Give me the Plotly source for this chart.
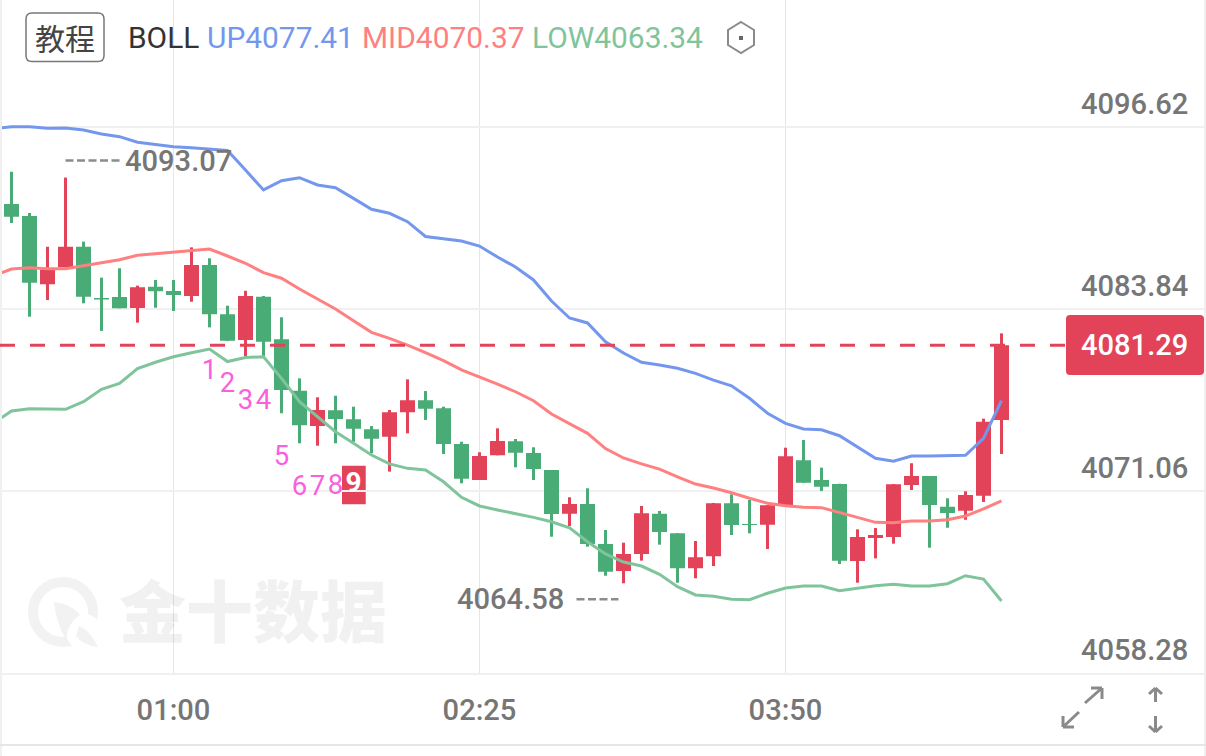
import plotly.graph_objects as go

# Gold 5-minute candles with Bollinger bands and a TD sequence count
times = list(range(56))
opens = [4091.21,4090.37,4085.57,4086.77,4088.21,4084.61,4084.68,4083.91,4085.41,4085.10,4084.75,4086.93,4083.47,4081.66,4084.70,4081.71,
         4078.10,4075.62,4076.73,4076.09,4075.39,4074.87,4076.59,4077.43,4076.87,4074.36,4071.83,4073.57,4074.55,4073.73,4072.53,4069.47,
         4070.15,4067.34,4065.44,4066.64,4069.47,4068.09,4065.63,4066.47,4070.20,4068.74,4068.69,4070.08,4073.22,4071.83,4071.55,4066.14,
         4067.76,4067.83,4071.48,4072.11,4069.96,4069.68,4070.73,4076.05]
highs = [4093.48,4090.58,4088.21,4093.07,4088.57,4086.04,4086.70,4085.48,4085.88,4085.88,4088.17,4087.40,4084.07,4085.12,4084.75,4083.26,
         4078.97,4077.64,4077.75,4076.98,4075.62,4076.75,4078.90,4078.08,4076.98,4074.52,4073.78,4075.46,4074.71,4074.13,4072.53,4070.62,
         4071.25,4068.32,4067.43,4070.01,4069.66,4068.09,4067.55,4070.22,4070.83,4070.43,4070.06,4074.10,4074.64,4072.70,4071.57,4068.37,
         4068.46,4071.55,4073.01,4072.11,4070.55,4071.04,4076.14,4082.13]
lows = [4089.88,4083.30,4084.47,4086.77,4084.24,4082.30,4083.89,4082.88,4083.93,4083.70,4084.35,4082.55,4081.61,4080.54,4080.49,4076.52,
        4074.41,4074.24,4074.41,4074.52,4073.71,4072.42,4075.11,4076.05,4073.66,4071.60,4071.83,4073.57,4072.72,4071.83,4067.85,4068.60,
        4067.15,4065.11,4064.58,4066.17,4067.29,4064.62,4064.93,4065.79,4067.97,4068.09,4066.99,4070.08,4071.64,4071.06,4065.93,4064.62,
        4066.33,4067.36,4071.13,4067.08,4068.48,4069.04,4070.29,4073.66]
closes = [4090.32,4085.69,4086.58,4088.21,4084.70,4084.51,4083.89,4085.36,4085.08,4084.82,4086.93,4083.47,4081.61,4084.75,4081.54,4078.15,
          4075.67,4076.75,4076.12,4075.43,4074.73,4076.59,4077.43,4076.84,4074.36,4071.92,4073.52,4074.57,4073.75,4072.60,4069.44,4070.15,
          4067.34,4065.39,4066.64,4069.49,4068.18,4065.63,4066.40,4070.20,4068.67,4068.67,4070.06,4073.50,4071.64,4071.36,4066.17,4067.83,
          4067.97,4071.53,4072.11,4070.08,4069.52,4070.78,4075.93,4081.29]

# Bollinger bands start one period before the first visible candle
band_times = list(range(-1, 56))
boll_up = [4096.51,4096.64,4096.64,4096.53,4096.55,4096.41,4096.13,4095.94,4095.55,4095.38,4095.24,4095.17,4095.08,4094.97,4093.60,4092.20,
           4092.85,4093.06,4092.55,4092.36,4091.61,4090.84,4090.56,4089.97,4088.93,4088.76,4088.61,4088.26,4087.49,4086.79,4085.88,4084.40,
           4083.21,4082.86,4081.54,4080.75,4080.10,4079.91,4079.68,4079.32,4078.85,4078.45,4077.57,4076.52,4075.81,4075.41,4075.36,4074.94,
           4074.13,4073.36,4073.15,4073.52,4073.52,4073.57,4073.57,4074.76,4077.41]
boll_mid = [4086.16,4086.65,4086.74,4086.67,4086.67,4086.88,4087.14,4087.30,4087.61,4087.72,4087.86,4087.98,4088.05,4087.56,4087.05,4086.39,
            4086.00,4085.24,4084.52,4083.84,4083.02,4082.20,4081.78,4081.31,4080.77,4080.21,4079.56,4079.09,4078.57,4078.03,4077.40,4076.47,
            4075.81,4075.11,4074.04,4073.38,4072.96,4072.60,4072.06,4071.55,4071.27,4070.94,4070.55,4070.20,4070.03,4069.92,4069.89,4069.54,
            4069.19,4068.86,4068.83,4068.95,4068.95,4069.04,4069.30,4069.80,4070.37]
boll_low = [4075.83,4076.68,4076.84,4076.80,4076.80,4077.33,4078.20,4078.62,4079.65,4080.10,4080.49,4080.77,4081.03,4080.15,4080.43,4080.49,
            4078.97,4077.33,4076.28,4075.22,4074.41,4073.59,4072.96,4072.65,4072.53,4071.71,4070.62,4070.01,4069.73,4069.49,4069.21,4068.90,
            4068.48,4067.50,4066.64,4066.07,4065.79,4065.21,4064.34,4063.76,4063.67,4063.46,4063.43,4063.88,4064.25,4064.39,4064.39,4064.06,
            4064.23,4064.41,4064.51,4064.39,4064.39,4064.55,4065.11,4064.88,4063.34]

price_ticks = [4096.62, 4083.84, 4071.06, 4058.28]
time_ticks = [9, 26, 43]
time_labels = ["01:00", "02:25", "03:50"]
last_price = 4081.29
peak_at, peak_price = 3, 4093.07
trough_at, trough_price = 34, 4064.58

# TD sequence count: candle index, label, price level of the digit
td_times = [11, 12, 13, 14, 15, 16, 17, 18]
td_labels = ["1", "2", "3", "4", "5", "6", "7", "8"]
td_levels = [4079.42, 4078.50, 4077.31, 4077.31, 4073.38, 4071.27, 4071.27, 4071.33]
td_final_at, td_final_label, td_final_level = 19, "9", 4071.48
td_box_low, td_box_high = 4070.13, 4072.84

RED = "#E34359"
GREEN = "#49AB76"
BLUE = "#7497EE"
SALMON = "#FF8080"
MINT = "#80C49C"
GREY_TEXT = "#767676"
GRID = "#F0F0F0"
VGRID = "#E6E6E6"
ICON = "#8A8A8A"
MARK = "#F2F2F2"
FONT = "Roboto"
HEADER_SIZE = 29.9
LABEL_SIZE = 29.1
W, H, PLOT_BOTTOM = 1206, 756, 673
PRICE_PER_PX = (price_ticks[0] - price_ticks[3]) / 546


def px(x):
    return x / W


def py(y):
    return 1 - y / H


def page_path(d, **kw):
    """Path shape given in page pixels (tokens of letters and x,y pairs)."""
    out = []
    for tok in d.split():
        if "," in tok:
            a, b = tok.split(",")
            out.append(f"{px(float(a)):.5f},{py(float(b)):.5f}")
        else:
            out.append(tok)
    return dict(type="path", xref="paper", yref="paper", path=" ".join(out), **kw)


def page_line(x0, y0, x1, y1, color=ICON, width=3):
    return dict(type="line", xref="paper", yref="paper", x0=px(x0), y0=py(y0), x1=px(x1), y1=py(y1),
                line=dict(color=color, width=width))


def page_text(x, y, text, color, size=HEADER_SIZE, xanchor="left", family=FONT, weight=None, **kw):
    font = dict(family=family, size=size, color=color)
    if weight:
        font["weight"] = weight
    return dict(xref="paper", yref="paper", x=px(x), y=py(y), text=text, showarrow=False, xanchor=xanchor,
                yanchor="middle", font=font, **kw)


def rounded_rect(x0, y0, x1, y1, r):
    return (f"M {x0+r},{y0} L {x1-r},{y0} Q {x1},{y0} {x1},{y0+r} L {x1},{y1-r} Q {x1},{y1} {x1-r},{y1} "
            f"L {x0+r},{y1} Q {x0},{y1} {x0},{y1-r} L {x0},{y0+r} Q {x0},{y0} {x0+r},{y0} Z")


candle_colors = [RED if c > o else GREEN for o, c in zip(opens, closes)]

fig = go.Figure()

# Wicks as thin bars, bodies as a borderless candlestick so that edges sit on the exact prices
fig.add_trace(go.Bar(x=times, base=lows, y=[h - l for h, l in zip(highs, lows)], width=3 / 18,
                     marker=dict(color=candle_colors, line=dict(width=0)), hoverinfo="skip", showlegend=False))
fig.add_trace(go.Candlestick(x=times, open=opens, high=highs, low=lows, close=closes, whiskerwidth=0,
                             increasing=dict(fillcolor=RED, line=dict(color=RED, width=0)),
                             decreasing=dict(fillcolor=GREEN, line=dict(color=GREEN, width=0)),
                             hoverinfo="skip", showlegend=False))

for band, color in ((boll_up, BLUE), (boll_mid, SALMON), (boll_low, MINT)):
    fig.add_trace(go.Scatter(x=band_times, y=band, mode="lines", line=dict(color=color, width=3),
                             hoverinfo="skip", showlegend=False))

fig.add_trace(go.Scatter(x=td_times, y=td_levels, mode="text", text=td_labels, textposition="middle center",
                         textfont=dict(family=FONT, size=27.5, color="#FA5FDE"),
                         hoverinfo="skip", showlegend=False))
fig.add_trace(go.Scatter(x=[td_final_at], y=[td_final_level], mode="text", text=[td_final_label],
                         textposition="middle center", textfont=dict(family=FONT, size=28, color="white", weight=700),
                         hoverinfo="skip", showlegend=False))

shapes = [
    # Outer frame and footer rule
    page_line(1, 0, 1, H, GRID, 2),
    page_line(1205, 0, 1205, H, GRID, 2),
    page_line(0, 745, W, 745, "#E6E6E6", 2),
    # Brand mark behind the plot
    dict(type="circle", xref="paper", yref="paper", x0=px(33), y0=py(642), x1=px(93), y1=py(582),
         line=dict(color=MARK, width=10), layer="below"),
    dict(type="circle", xref="paper", yref="paper", x0=px(66), y0=py(650), x1=px(102), y1=py(614),
         fillcolor="white", line=dict(width=0), layer="below"),
    page_path("M 54,602 Q 72,604 80,615 Q 68,622 66,640 Q 56,622 54,602 Z", fillcolor=MARK, line=dict(width=0), layer="below"),
    page_path("M 79,626 Q 90,630 98,647 Q 82,645 76,636 Z", fillcolor=MARK, line=dict(width=0), layer="below"),
    # Box behind the final TD count
    dict(type="rect", xref="x", yref="y", x0=td_final_at - 0.64, x1=td_final_at + 0.68, y0=td_box_low, y1=td_box_high,
         fillcolor=RED, line=dict(width=0), layer="below"),
    # Latest price guide and tag
    dict(type="line", xref="paper", yref="y", x0=0, x1=px(1066), y0=last_price, y1=last_price,
         line=dict(color=RED, width=3, dash="15px,15px")),
    page_path(rounded_rect(1066, 315, 1204, 375, 4), fillcolor=RED, line=dict(width=0)),
    # Dashed leaders of the high and low labels
    dict(type="line", xref="x", yref="y", xsizemode="pixel", ysizemode="pixel", xanchor=peak_at, yanchor=peak_price,
         x0=0, x1=55, y0=17, y1=17, line=dict(color="#8C8C8C", width=2.5, dash="8px,3.5px")),
    dict(type="line", xref="x", yref="y", xsizemode="pixel", ysizemode="pixel", xanchor=trough_at, yanchor=trough_price,
         x0=-47, x1=-5, y0=-16, y1=-16, line=dict(color="#8C8C8C", width=2.5, dash="8px,3.5px")),
    # Tutorial button
    page_path(rounded_rect(26, 13, 104, 61.5, 6), line=dict(color="#777777", width=1.5), fillcolor="rgba(0,0,0,0)"),
    # Settings hexagon
    page_path("M 741,22 L 754,30 L 754,45 L 741,53 L 728,45 L 728,30 Z", line=dict(color=ICON, width=2), fillcolor="rgba(0,0,0,0)"),
    dict(type="rect", xref="paper", yref="paper", x0=px(739), y0=py(40), x1=px(743), y1=py(36),
         fillcolor="#666666", line=dict(width=0)),
    # Expand and scale icons
    page_line(1085, 703, 1102, 688), page_line(1091, 688, 1102, 688), page_line(1102, 688, 1102, 699),
    page_line(1079, 712, 1063, 727), page_line(1063, 716, 1063, 727), page_line(1063, 727, 1074, 727),
    page_line(1155.5, 688, 1155.5, 702), page_line(1149, 694, 1155.5, 688), page_line(1155.5, 688, 1162, 694),
    page_line(1155.5, 716, 1155.5, 732), page_line(1149, 726, 1155.5, 732), page_line(1155.5, 732, 1162, 726),
]

annotations = [
    page_text(65, 37, "教程", "#444444", size=30, xanchor="center", family="Noto Sans CJK SC"),
    page_text(126, 37, "BOLL", "#333333"),
    page_text(205, 37, "UP4077.41", BLUE),
    page_text(360, 37, "MID4070.37", SALMON),
    page_text(530, 37, "LOW4063.34", MINT),
    page_text(1190, 345, f"{last_price:.2f}", "white", size=LABEL_SIZE, xanchor="right", weight=500),
    page_text(117, 607, "金十数据", "rgba(0,0,0,0.055)", size=67, family="Noto Sans CJK SC", weight=900),
    dict(x=peak_at, y=peak_price, text=f"{peak_price:.2f}", showarrow=False, xanchor="left", yanchor="middle",
         xshift=57, yshift=17, font=dict(family=FONT, size=LABEL_SIZE, color=GREY_TEXT, weight=500)),
    dict(x=trough_at, y=trough_price, text=f"{trough_price:.2f}", showarrow=False, xanchor="right", yanchor="middle",
         xshift=-58, yshift=-16, font=dict(family=FONT, size=LABEL_SIZE, color=GREY_TEXT, weight=500)),
]
for tick in price_ticks:
    annotations.append(dict(xref="paper", yref="y", x=px(1190), y=tick, text=f"{tick:.2f}", showarrow=False,
                            xanchor="right", yanchor="middle", yshift=23,
                            font=dict(family=FONT, size=LABEL_SIZE, color=GREY_TEXT, weight=500)))

fig.update_layout(
    width=W, height=H, margin=dict(l=0, r=0, t=0, b=0), paper_bgcolor="white", plot_bgcolor="white",
    barmode="overlay", boxgap=1 / 6, boxgroupgap=0, showlegend=False, shapes=shapes, annotations=annotations,
    xaxis=dict(domain=[0, 1], range=[-11.5 / 18, (W - 11.5) / 18], tickmode="array", tickvals=time_ticks,
               ticktext=time_labels, showgrid=True, gridcolor=VGRID, gridwidth=1, zeroline=False, showline=True,
               linecolor=GRID, linewidth=2, ticks="", ticklabelstandoff=10, rangeslider=dict(visible=False),
               tickfont=dict(family=FONT, size=LABEL_SIZE, color=GREY_TEXT, weight=500), automargin=False),
    yaxis=dict(domain=[(H - PLOT_BOTTOM) / H, 1], range=[price_ticks[3], price_ticks[3] + PLOT_BOTTOM * PRICE_PER_PX],
               tickmode="array", tickvals=price_ticks, showticklabels=False, showgrid=True, gridcolor=GRID, gridwidth=2,
               zeroline=False, showline=False, ticks="", automargin=False),
)

fig.write_html("out.html")
